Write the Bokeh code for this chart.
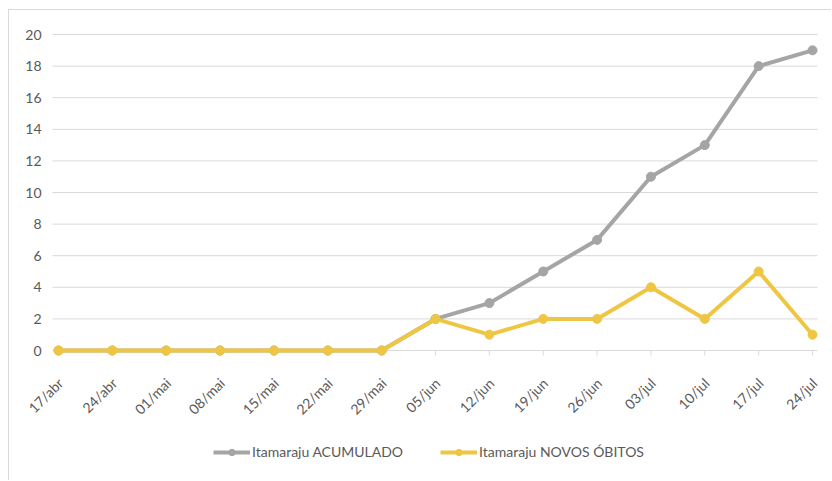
from bokeh.plotting import figure
from bokeh.models import (Range1d, Legend, LegendItem, ColumnDataSource, LabelSet)
from bokeh.core.properties import value
from bokeh.embed import file_html
from bokeh.resources import INLINE
import math

# Weekly dates (dd/mmm, Portuguese)
dates = ["17/abr", "24/abr", "01/mai", "08/mai", "15/mai", "22/mai", "29/mai",
         "05/jun", "12/jun", "19/jun", "26/jun", "03/jul", "10/jul", "17/jul", "24/jul"]
acumulado = [0, 0, 0, 0, 0, 0, 0, 2, 3, 5, 7, 11, 13, 18, 19]
novos_obitos = [0, 0, 0, 0, 0, 0, 0, 2, 1, 2, 2, 4, 2, 5, 1]
y_ticks = [0, 2, 4, 6, 8, 10, 12, 14, 16, 18, 20]

GRAY = "#A5A5A5"
GOLD = "#EEC643"
TEXT = "#595959"
GRID = "#D9D9D9"
FONT = "Lato"

n = len(dates)
idx = list(range(n))
# horizontal extent of the plot area, a little past the first and last category
grid_x0 = -0.111
grid_x1 = n - 1 + 0.093

src = ColumnDataSource(dict(x=idx, zero=[0] * n, label=dates,
                            acum=acumulado, novos=novos_obitos))
ysrc = ColumnDataSource(dict(y=y_ticks, label=[str(v) for v in y_ticks],
                             x0=[grid_x0] * len(y_ticks), x1=[grid_x1] * len(y_ticks)))

# The whole canvas is the drawing frame; axes, grid and legend are drawn inside it
p = figure(width=823, height=471,
           min_border_left=0, min_border_right=0, min_border_top=0, min_border_bottom=0,
           x_range=Range1d(-0.9098, 14.371),
           y_range=Range1d(-8.291, 21.519),
           output_backend="svg", toolbar_location=None)
p.xaxis.visible = False
p.yaxis.visible = False
p.grid.visible = False

p.styles = {"margin-left": "8px", "margin-top": "9px",
            "border-left": "1px solid #D9D9D9", "border-top": "1px solid #D9D9D9"}

p.outline_line_color = None
p.background_fill_color = "white"
p.border_fill_color = "white"

# Horizontal grid lines (the zero line doubles as the category axis line)
p.segment(x0="x0", y0="y", x1="x1", y1="y", source=ysrc, line_color=GRID, line_width=1)
p.add_layout(LabelSet(x="x0", y="y", text="label", source=ysrc,
                      text_align="right", text_baseline="middle", x_offset=-11,
                      text_font=value(FONT), text_font_size=value("14px"),
                      text_color=TEXT))

# Category ticks and slanted date labels
p.ray(x="x", y="zero", source=src, length=5, length_units="screen",
      angle=-math.pi / 2, line_color=GRID, line_width=1)
p.add_layout(LabelSet(x="x", y="zero", text="label", source=src,
                      angle=math.pi / 4, text_align="right", text_baseline="middle",
                      x_offset=2, y_offset=-30,
                      text_font=value(FONT), text_font_size=value("14px"),
                      text_color=TEXT))

l1 = p.line("x", "acum", source=src, line_color=GRAY, line_width=4, line_join="round")
m1 = p.scatter("x", "acum", source=src, size=9, fill_color=GRAY, line_color=GRAY)
l2 = p.line("x", "novos", source=src, line_color=GOLD, line_width=4, line_join="round")
m2 = p.scatter("x", "novos", source=src, size=9, fill_color=GOLD, line_color=GOLD)

legend = Legend(items=[LegendItem(label="Itamaraju ACUMULADO", renderers=[l1, m1]),
                       LegendItem(label="Itamaraju NOVOS ÓBITOS", renderers=[l2, m2])],
                orientation="horizontal", location=(204, 21),
                border_line_color=None, background_fill_alpha=0,
                label_text_font=FONT, label_text_font_size="14px",
                label_text_color=TEXT, glyph_width=37, glyph_height=16,
                label_standoff=2, spacing=37, padding=0, margin=0)
p.add_layout(legend, "center")

open("out.html", "w").write(file_html(p, INLINE))
